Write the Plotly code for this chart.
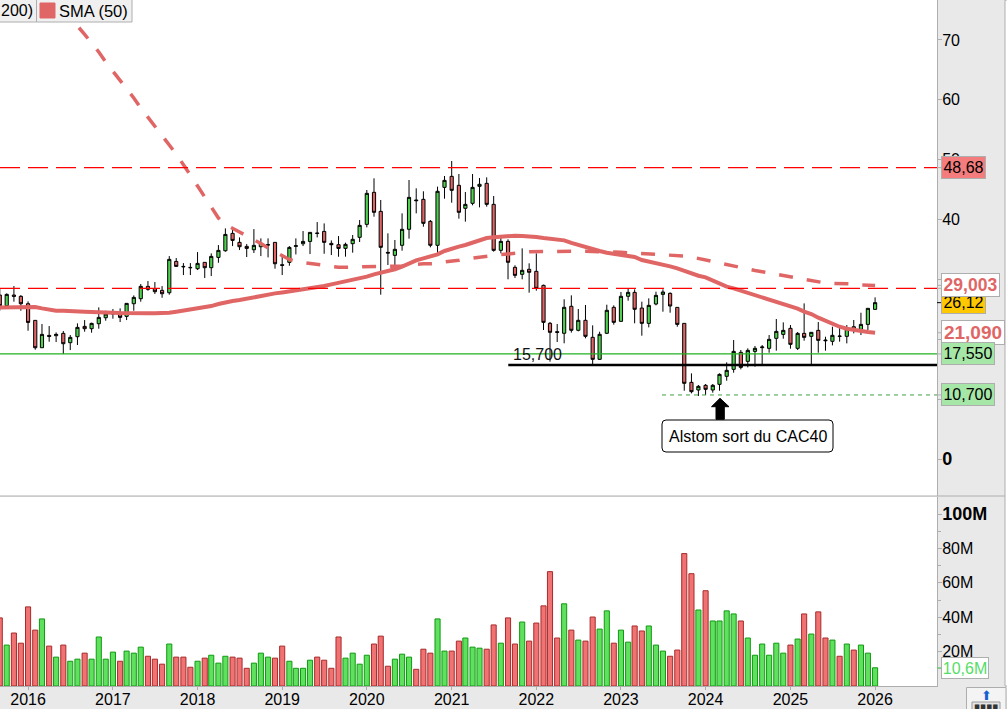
import pandas as pd
import plotly.graph_objects as go

FONT = "Liberation Sans"
UP, DOWN = "#4fd14f", "#e06666"
SMA_COLOR = "#e06666"
PANEL = "#e9e9e9"
EDGE = "#aeaeae"

dates = pd.date_range("2015-09-01", periods=125, freq="MS")

opens = [
    27.39, 25.61, 27.39, 27.17,
    25.94, 23.16, 18.59, 20.65, 20.60, 20.99, 19.43, 20.43, 22.16, 21.77, 22.60, 23.60,
    24.22, 24.22, 23.83, 25.94, 26.78, 28.84, 28.45, 28.17, 27.78, 33.01, 32.18, 32.01,
    31.79, 32.85, 31.96, 33.68, 34.79, 37.69, 36.19, 35.52, 34.96, 35.46, 35.74, 36.19,
    32.46, 32.85, 35.52, 35.96, 36.35, 37.75, 38.02, 36.02, 35.80, 35.19, 35.97, 37.03,
    39.20, 44.55, 41.37, 34.52, 34.02, 35.70, 38.37, 43.27, 43.38, 39.70, 35.70, 45.38,
    47.22, 45.72, 41.88, 42.71, 45.55, 46.05, 42.54, 34.86, 36.36, 32.02, 30.85, 31.69,
    31.35, 29.01, 22.67, 21.27, 21.00, 25.51, 21.50, 23.17, 20.33, 16.65, 21.00, 25.34,
    23.00, 27.18, 27.84, 25.22, 22.66, 25.89, 27.50, 27.67, 25.33, 22.66, 12.81, 11.53,
    12.31, 11.53, 12.47, 13.81, 14.98, 17.82, 16.31, 17.98, 18.60, 18.49, 20.16, 20.82,
    21.83, 18.49, 20.99, 20.49, 21.49, 19.88, 19.66, 20.55, 20.49, 22.10, 21.66, 22.49,
    25.00,
]
highs = [
    28.50, 27.67, 28.89, 27.39,
    26.33, 23.16, 22.55, 22.21, 21.15, 21.38, 20.71, 22.66, 23.21, 22.77, 25.33, 24.77,
    25.05, 25.16, 26.00, 27.33, 29.23, 29.73, 29.56, 28.89, 33.90, 33.57, 32.73, 32.73,
    34.57, 32.85, 34.35, 35.74, 38.53, 38.53, 37.02, 35.91, 38.41, 36.86, 36.86, 36.19,
    34.07, 35.57, 36.86, 38.08, 37.86, 39.58, 39.36, 36.52, 37.24, 36.14, 37.42, 39.93,
    44.94, 46.89, 43.27, 37.70, 36.59, 41.04, 46.61, 45.22, 44.72, 39.93, 45.50, 47.28,
    49.78, 47.61, 44.60, 47.61, 46.94, 47.05, 43.94, 37.42, 36.70, 32.36, 35.19, 32.69,
    34.36, 29.13, 22.89, 22.56, 26.68, 27.34, 25.06, 25.73, 22.33, 21.27, 25.78, 25.67,
    27.90, 28.40, 28.34, 26.28, 26.84, 27.95, 28.34, 27.84, 25.33, 22.66, 14.31, 12.36,
    12.53, 12.53, 14.31, 16.15, 19.88, 18.21, 18.49, 18.88, 19.04, 20.71, 23.39, 22.83,
    22.38, 21.21, 26.00, 21.16, 22.88, 20.43, 22.10, 21.99, 22.38, 23.22, 24.44, 25.17,
    27.00,
]
lows = [
    24.78, 25.61, 26.28, 24.77,
    21.43, 18.26, 18.59, 19.59, 19.54, 17.53, 18.20, 19.04, 21.27, 21.10, 21.77, 23.10,
    23.44, 22.88, 23.21, 24.77, 26.28, 28.11, 27.56, 26.94, 27.45, 32.12, 30.73, 30.73,
    31.57, 30.23, 30.56, 32.79, 34.63, 35.57, 34.91, 33.74, 34.41, 33.90, 33.68, 31.79,
    30.73, 32.29, 34.18, 35.57, 34.24, 37.02, 34.29, 34.07, 33.79, 33.80, 34.47, 36.25,
    38.70, 40.48, 27.45, 32.41, 32.24, 34.80, 36.81, 41.04, 38.81, 35.36, 34.25, 43.49,
    42.82, 40.15, 39.65, 42.38, 42.04, 42.15, 34.64, 34.36, 30.02, 30.24, 30.02, 27.79,
    28.12, 21.55, 16.26, 19.55, 19.33, 21.11, 21.33, 20.16, 15.87, 16.54, 20.88, 22.44,
    22.94, 26.45, 22.67, 20.60, 21.99, 25.67, 24.61, 24.44, 22.10, 11.41, 10.97, 10.52,
    10.69, 11.08, 11.41, 13.08, 14.42, 14.98, 15.31, 15.42, 15.70, 17.76, 18.10, 20.10,
    18.43, 18.21, 19.77, 15.70, 17.76, 18.10, 18.99, 19.60, 19.32, 20.99, 20.71, 21.55,
    24.89,
]
closes = [
    25.61, 27.50, 27.17, 25.94,
    22.82, 18.59, 20.82, 20.49, 20.82, 19.26, 20.32, 21.99, 21.77, 22.66, 23.66, 24.22,
    24.33, 23.66, 26.00, 27.00, 28.84, 28.34, 27.95, 27.61, 33.35, 32.18, 32.12, 31.96,
    32.68, 31.96, 33.85, 34.85, 37.52, 36.52, 35.46, 35.18, 35.69, 36.02, 35.80, 32.62,
    32.35, 35.35, 35.63, 36.35, 37.86, 37.69, 36.19, 35.80, 35.18, 35.86, 36.70, 39.03,
    44.38, 41.21, 35.36, 34.41, 35.03, 38.37, 43.71, 43.16, 39.37, 35.70, 44.72, 46.55,
    44.88, 41.21, 42.54, 45.38, 45.89, 42.54, 34.86, 36.36, 32.86, 30.68, 31.52, 31.19,
    28.51, 22.83, 21.16, 21.16, 25.34, 21.50, 23.17, 20.49, 16.65, 20.83, 24.84, 22.83,
    27.18, 27.84, 25.01, 22.66, 25.67, 27.34, 27.90, 25.56, 22.49, 12.64, 11.25, 12.14,
    11.64, 12.31, 14.14, 14.81, 17.98, 15.31, 18.15, 18.49, 18.71, 19.99, 21.32, 21.49,
    19.15, 20.99, 20.32, 21.16, 19.82, 19.77, 20.66, 20.49, 21.77, 21.66, 22.49, 25.17,
    26.12,
]
volumes_m = [
    39.6, 23.8, 30.8, 24.9,
    46.0, 32.5, 39.0, 23.2, 16.8, 23.8, 14.4, 15.6, 19.1, 15.6, 28.5, 15.6,
    19.7, 14.4, 20.3, 19.1, 22.6, 17.3, 15.6, 12.7, 24.4, 16.8, 16.8, 10.9,
    14.4, 16.2, 17.9, 13.3, 17.3, 16.8, 16.2, 10.3, 13.3, 19.1, 16.8, 16.2,
    23.2, 14.4, 10.3, 10.3, 15.0, 16.8, 15.0, 10.3, 28.5, 16.2, 19.1, 12.7,
    17.9, 24.4, 29.0, 11.5, 15.6, 18.5, 16.8, 9.7, 21.4, 19.1, 39.0, 20.3,
    20.3, 26.1, 27.9, 22.6, 22.0, 21.4, 35.5, 24.9, 39.6, 24.4, 37.2, 26.1,
    36.6, 46.6, 66.5, 27.9, 47.8, 32.5, 26.7, 26.1, 40.1, 33.1, 43.7, 24.9,
    32.5, 25.5, 34.9, 32.0, 34.9, 23.8, 20.3, 17.3, 20.9, 77.0, 65.3, 44.2,
    55.4, 37.8, 37.8, 43.7, 41.9, 37.8, 27.9, 17.9, 24.4, 17.9, 24.9, 19.1,
    23.8, 27.3, 41.9, 30.2, 43.1, 27.9, 26.7, 17.3, 24.4, 20.9, 23.8, 19.1,
    10.6,
]
sma_50 = [
    25.33, 25.33, 25.39, 25.44,
    25.44, 25.39, 25.16, 24.94, 24.77, 24.77, 24.77, 24.77, 24.61, 24.55, 24.55, 24.49,
    24.44, 24.38, 24.33, 24.33, 24.33, 24.33, 24.33, 24.33, 24.44, 24.61, 24.77, 24.94,
    25.11, 25.27, 25.55, 25.89, 26.22, 26.39, 26.55, 26.78, 27.11, 27.33, 27.50, 27.67,
    27.83, 28.00, 28.11, 28.34, 28.56, 28.73, 28.89, 29.17, 29.45, 29.68, 29.90, 30.12,
    30.46, 30.85, 31.07, 31.35, 31.69, 32.13, 32.69, 33.19, 33.52, 33.80, 34.19, 34.75,
    35.19, 35.47, 35.75, 36.14, 36.59, 36.92, 37.03, 37.14, 37.25, 37.31, 37.25, 37.20,
    37.09, 36.92, 36.81, 36.70, 36.53, 36.09, 35.75, 35.31, 35.03, 34.75, 34.47, 34.30,
    34.14, 33.97, 33.75, 33.24, 33.02, 32.74, 32.46, 32.18, 31.85, 31.40, 31.01, 30.62,
    30.35, 29.79, 29.23, 28.79, 28.51, 28.12, 27.78, 27.50, 26.95, 26.56, 26.28, 25.95,
    25.56, 25.11, 24.61, 24.22, 23.61, 23.05, 22.49, 22.10, 21.77, 21.55, 21.33, 21.21,
    21.09,
]
# the 200 month average only shows from mid 2016, above that it runs off the top
sma_200 = [
    76.46, 72.34, 70.92, 69.50, 67.99, 66.32,
    64.82, 63.31, 61.81, 60.31, 58.64, 57.13, 55.63, 54.13, 52.46, 50.95, 49.28, 47.44,
    45.61, 43.77, 41.93, 40.26, 39.17, 38.59, 37.92, 37.25, 36.67, 36.00, 35.25, 34.58,
    33.91, 33.33, 32.99, 32.83, 32.66, 32.41, 32.24, 32.08, 32.02, 32.02, 32.08, 32.16,
    32.19, 32.19, 32.19, 32.19, 32.19, 32.24, 32.41, 32.58, 32.63, 32.63, 32.66, 32.91,
    32.99, 33.19, 33.41, 33.58, 33.75, 33.86, 34.03, 34.16, 34.25, 34.30, 34.46, 34.63,
    34.66, 34.70, 34.70, 34.70, 34.70, 34.70, 34.70, 34.70, 34.70, 34.70, 34.63, 34.58,
    34.53, 34.46, 34.41, 34.41, 34.33, 34.25, 34.16, 34.08, 34.00, 33.91, 33.75, 33.49,
    33.24, 32.99, 32.74, 32.49, 32.24, 31.99, 31.74, 31.49, 31.29, 31.07, 30.91, 30.65,
    30.40, 30.24, 29.99, 29.74, 29.52, 29.40, 29.35, 29.35, 29.35, 29.24, 29.07, 29.05,
    29.003,
]

year_ticks = [f"{y}-01-01" for y in range(2016, 2027)]
year_labels = [str(y) for y in range(2016, 2027)]
price_ticks = [0, 10, 20, 30, 40, 50, 60, 70]
price_labels = ["<span style='font-size:18px'><b>0</b></span>", "10", "20", "30", "40", "50", "60", "70"]
volume_ticks = [20, 40, 60, 80, 100]
volume_minor_ticks = [10, 30, 50, 70, 90]
volume_labels = ["20M", "40M", "60M", "80M", "<span style='font-size:18px'><b>100M</b></span>"]

resistance_high = 48.68
resistance_low = 28.52
support_green = 17.55
support_black = 15.7
support_low = 10.7

# px helpers for the things that hang outside the plot area
W, H = 1007, 709
PLOT_W, PLOT_H = 937, 686
px = lambda v: v / PLOT_W
py = lambda v: 1 - v / PLOT_H

fig = go.Figure()
fig.add_trace(
    go.Candlestick(
        x=dates, open=opens, high=highs, low=lows, close=closes,
        increasing=dict(fillcolor=UP, line=dict(color="black", width=1)),
        decreasing=dict(fillcolor=DOWN, line=dict(color="black", width=1)),
        whiskerwidth=0,
    )
)
fig.add_trace(go.Scatter(x=dates[10:], y=sma_200, mode="lines",
                         line=dict(color=SMA_COLOR, width=3.5, dash="14px,14px")))
fig.add_trace(go.Scatter(x=dates, y=sma_50, mode="lines",
                         line=dict(color=SMA_COLOR, width=4)))
fig.add_trace(
    go.Bar(
        x=dates, y=volumes_m, yaxis="y2", width=22 * 86400000,
        marker=dict(
            color=["#5fe05f" if c >= o else "#f07272" for o, c in zip(opens, closes)],
            line=dict(color=["#109a10" if c >= o else "#a82a2a" for o, c in zip(opens, closes)], width=1),
        ),
    )
)


def hline(y, color, width, dash="solid", start=None):
    fig.add_shape(type="line", xref="x", yref="y", x0=start or "2015-09-02", x1="2026-09-25",
                  y0=y, y1=y, line=dict(color=color, width=width, dash=dash))


hline(resistance_high, "#ff0000", 1.2, "20px,8px")
hline(resistance_low, "#ff0000", 1.2, "20px,8px")
hline(support_green, "#22b022", 1.3)
hline(support_black, "black", 2.5, start="2021-09-02")
hline(support_low, "#3f9f3f", 1, "4px,4px", start="2023-06-27")


def pixel_rect(x0, x1, y0, y1, fill, line=EDGE):
    fig.add_shape(type="rect", xref="paper", yref="paper", x0=px(x0), x1=px(x1), y0=py(y0), y1=py(y1),
                  fillcolor=fill, line=dict(color=line, width=1))


def pixel_path(points, fill, line=None):
    # points are (letter, x, y, ...) in window pixels
    parts = []
    for cmd, *xy in points:
        coords = " ".join(f"{px(xy[i])},{py(xy[i + 1])}" for i in range(0, len(xy), 2))
        parts.append(f"{cmd}{coords}")
    fig.add_shape(type="path", xref="paper", yref="paper", path=" ".join(parts) + " Z",
                  fillcolor=fill, line=dict(color=line or fill, width=1))


# price panel / volume panel separator, right strip
fig.add_shape(type="line", xref="paper", yref="paper", x0=0, x1=px(1005), y0=py(496), y1=py(496),
              line=dict(color=EDGE, width=1))
pixel_rect(1005, 1008, 0, 686, "white")
# button bottom right
pixel_rect(966.5, 1006, 687.5, 712, "#f4f4f4")
pixel_rect(972, 1000, 702, 712, "#e4e4e4", "#9a9a9a")
# cut off legend of the indicators
pixel_rect(-5, 36.5, -2, 22, "#f0f0f0")
pixel_rect(36.5, 132, -2, 22, "#f0f0f0")
pixel_rect(40, 55, 3, 18, SMA_COLOR, SMA_COLOR)

# up arrow over the CAC40 note
pixel_path(
    [("M", 720, 398.3), ("L", 729, 406.7), ("L", 724.3, 406.7), ("L", 724.3, 419.3),
     ("L", 716, 419.3), ("L", 716, 406.7), ("L", 711.5, 406.7)],
    "black",
)
# rounded box of the note
pixel_path(
    [("M", 666, 420), ("L", 829, 420), ("Q", 833, 420, 833, 424), ("L", 833, 448),
     ("Q", 833, 452, 829, 452), ("L", 666, 452), ("Q", 662, 452, 662, 448), ("L", 662, 424),
     ("Q", 662, 420, 666, 420)],
    "white", "black",
)


def label(y, text, bg, color="black", height=21, width=44, size=16, border=EDGE, yref="y", x=941, tick=EDGE):
    fig.add_shape(type="line", xref="paper", yref=yref, x0=px(937), x1=px(941), y0=y, y1=y,
                  line=dict(color=tick, width=1))
    fig.add_annotation(
        xref="paper", yref=yref, x=px(x), y=y, xanchor="left", yanchor="middle",
        text=text, showarrow=False, align="center", width=width, height=height,
        font=dict(family=FONT, size=size, color=color),
        bgcolor=bg, bordercolor=border, borderwidth=1, borderpad=0,
    )


label(resistance_high, "48,68", "#f57c7c", width=43)
label(resistance_low, "28,52", "#f57c7c", width=43)
label(26.12, "26,12", "#ffc800", width=43, tick="black")
label(29.003, "<b>29,003</b>", "white", SMA_COLOR, height=22, width=57, size=17.5)
label(21.09, "<b>21,090</b>", "white", SMA_COLOR, height=23, width=62, size=19)
label(support_green, "17,550", "#a6e6a6", width=52)
label(support_low, "10,700", "#a6e6a6", width=52)
label(10.6, "10,6M", "white", "#55dd66", height=20, width=46, yref="y2", tick="#55dd66")

fig.add_annotation(xref="x", yref="y", x="2021-09-12", y=17.5, text="15,700", showarrow=False,
                   xanchor="left", yanchor="middle", font=dict(family=FONT, size=16, color="#111111"))
fig.add_annotation(xref="paper", yref="paper", x=px(747.5), y=py(436), text="Alstom sort du CAC40",
                   showarrow=False, xanchor="center", yanchor="middle",
                   font=dict(family=FONT, size=16, color="black"))

fig.add_annotation(xref="paper", yref="paper", x=px(-1), y=py(11), xanchor="left", yanchor="middle",
                   text="200)", showarrow=False, font=dict(family=FONT, size=16))
fig.add_annotation(xref="paper", yref="paper", x=px(57), y=py(11), xanchor="left", yanchor="middle",
                   text="SMA (50)", showarrow=False, font=dict(family=FONT, size=16.5))
fig.add_annotation(xref="paper", yref="paper", x=px(986), y=py(695), xanchor="center", yanchor="middle",
                   text="⬆", showarrow=False, font=dict(family="DejaVu Sans", size=13, color="#1560d0"))
fig.add_annotation(xref="paper", yref="paper", x=px(986), y=py(705.5), xanchor="center", yanchor="middle",
                   text="▪▪▪▪", showarrow=False, font=dict(family="DejaVu Sans", size=9, color="#333333"))

fig.update_layout(
    width=W, height=H,
    margin=dict(l=0, r=W - PLOT_W, t=0, b=H - PLOT_H, pad=0),
    showlegend=False,
    paper_bgcolor=PANEL, plot_bgcolor="white",
    font=dict(family=FONT, size=16, color="black"),
    xaxis=dict(
        type="date", range=["2015-09-02", "2026-09-25"], anchor="y2", rangeslider=dict(visible=False),
        tickvals=year_ticks, ticktext=year_labels, ticks="outside", ticklen=3, tickcolor=EDGE,
        showgrid=False, zeroline=False, showline=True, linecolor=EDGE, tickfont=dict(size=16),
        automargin=False, ticklabelstandoff=-4,
    ),
    yaxis=dict(
        domain=[py(496), 1], range=[-6.18, 76.68], side="right", tickvals=price_ticks, ticktext=price_labels,
        ticks="outside", ticklen=4, tickcolor=EDGE, showgrid=False, zeroline=False,
        showline=True, linecolor=EDGE, automargin=False, ticklabelstandoff=-3,
    ),
    yaxis2=dict(
        domain=[0, py(497)], range=[0, 109.9], side="right", tickvals=volume_ticks, ticktext=volume_labels,
        ticks="outside", ticklen=4, tickcolor=EDGE, showgrid=False, zeroline=False,
        showline=True, linecolor=EDGE, automargin=False, ticklabelstandoff=-3,
        minor=dict(tickvals=volume_minor_ticks, ticks="outside", ticklen=3, tickcolor=EDGE, showgrid=False),
    ),
)

# no default page margin, the chart has to fill the window
fig.write_html(
    "out.html",
    config=dict(displayModeBar=False),
    post_script="document.body.style.margin='0';document.body.style.overflow='hidden';",
)
